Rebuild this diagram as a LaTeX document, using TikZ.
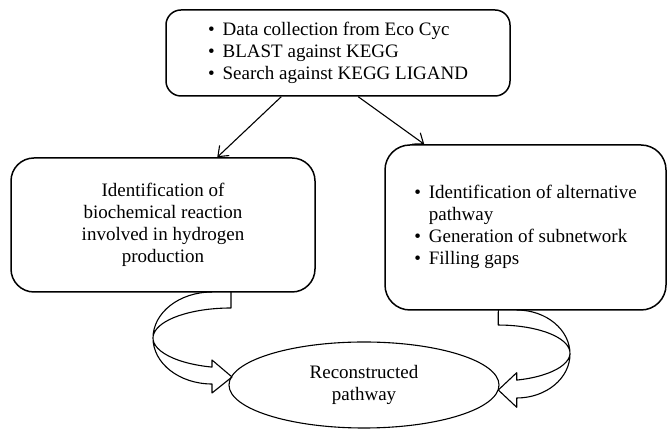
\documentclass[tikz,border=0pt]{standalone}
\usepackage{fontspec}
\setmainfont{Liberation Serif}
\usetikzlibrary{arrows.meta,shapes.geometric,calc}
\begin{document}
\begin{tikzpicture}[x=1pt,y=1pt,
  box/.style={draw, line width=1.5pt, rounded corners=#1, inner sep=0pt},
  arr/.style={line width=1.1pt, -{Straight Barb[length=9pt,width=14pt]}},
  blockarrow/.style={line width=1.1pt, line join=round}]
\useasboundingbox (0,0) rectangle (667,430);
\fontsize{19}{22}\selectfont
\node[box=15pt, minimum width=344pt, minimum height=86pt] (top) at (338,377)
  {\begin{tabular}{@{}l@{\hspace{8pt}}l@{}}
   \textbullet & Data collection from Eco Cyc\\
   \textbullet & BLAST against KEGG\\
   \textbullet & Search against KEGG LIGAND
   \end{tabular}};
\node[box=23pt, minimum width=304pt, minimum height=134pt, align=center] (left) at (163,205)
  {Identification of\\biochemical reaction\\involved in hydrogen\\production};
\node[box=25pt, minimum width=281pt, minimum height=165pt] (right) at (525.5,202.5)
  {\begin{tabular}{@{}l@{\hspace{8pt}}l@{}}
   \textbullet & Identification of alternative\\
    & pathway\\
   \textbullet & Generation of subnetwork\\
   \textbullet & Filling gaps
   \end{tabular}};
\node[draw, ellipse, line width=1.1pt, minimum width=270pt, minimum height=86pt, inner sep=0pt, align=center] (rec) at (364,45)
  {Reconstructed\\pathway};
\draw[arr] ($(top.south west)+(116,0)$) -- ($(left.north west)+(207,0)$);
\draw[arr] ($(top.south west)+(193,0)$) -- ($(right.north west)+(40,0)$);
% left curved block arrow
\draw[blockarrow] (212,138) arc[start angle=90, end angle=270, x radius=59pt, y radius=46pt]
  -- (212,37) -- (232,53) -- (212,70) -- (212,62.9)
  arc[start angle=255.9, end angle=90, x radius=78pt, y radius=30pt] -- (231,138);
% right curved block arrow
\draw[blockarrow] (516.7,120) arc[start angle=90, end angle=-90, x radius=53.3pt, y radius=44pt]
  -- (516.7,22.7) -- (498.3,40) -- (516.7,57.3) -- (516.7,49.9)
  arc[start angle=-75.1, end angle=90, x radius=71.7pt, y radius=28pt] -- (498.3,120);
\end{tikzpicture}
\end{document}
